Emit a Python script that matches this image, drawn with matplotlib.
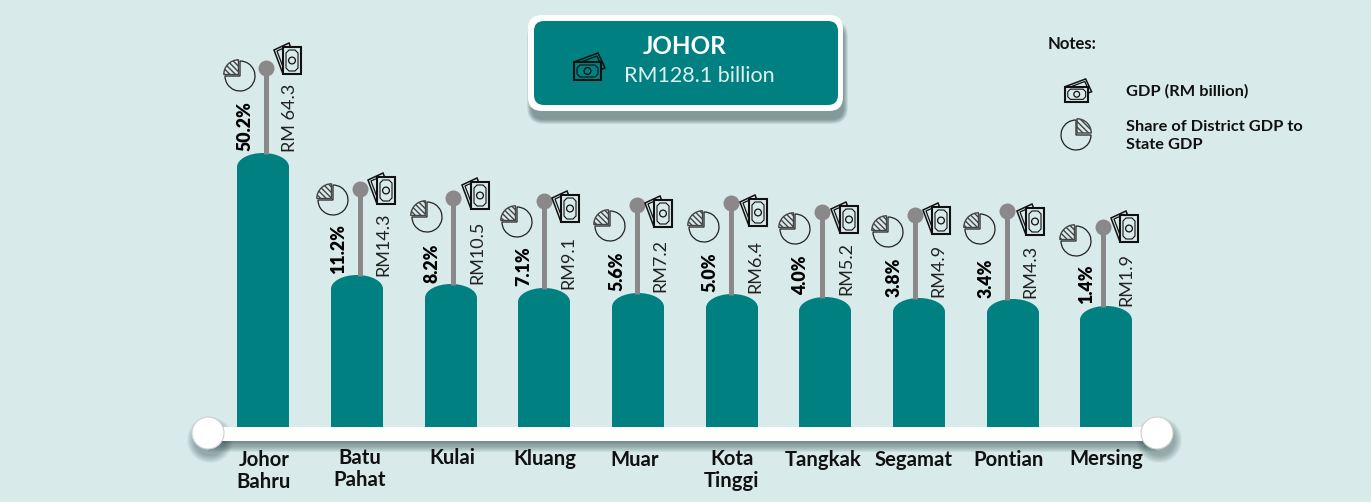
import matplotlib
matplotlib.use("Agg")
import matplotlib.pyplot as plt
from matplotlib.patches import Rectangle, Circle, Wedge, FancyBboxPatch, PathPatch, Polygon
from matplotlib.path import Path
from matplotlib.transforms import Affine2D

# ---- data ----
districts = ["Johor\nBahru", "Batu\nPahat", "Kulai", "Kluang", "Muar",
             "Kota\nTinggi", "Tangkak", "Segamat", "Pontian", "Mersing"]
gdp_labels = ["RM 64.3", "RM14.3", "RM10.5", "RM9.1", "RM7.2",
              "RM6.4", "RM5.2", "RM4.9", "RM4.3", "RM1.9"]
share_labels = ["50.2%", "11.2%", "8.2%", "7.1%", "5.6%",
                "5.0%", "4.0%", "3.8%", "3.4%", "1.4%"]
bar_heights = [274, 152, 143, 139, 134, 133, 130, 129, 128, 121]
stem_heights = [359, 238, 229, 226, 222, 224, 215, 212, 216, 200]

# ---- layout (figure pixels) ----
BASE = 427
BAR_W = 52
bar_x = [263, 357, 451, 544, 638, 732, 825, 919, 1013, 1106]
stem_x = [266, 360, 453, 544, 637, 731, 822, 915, 1007, 1103]
share_x = [245, 339, 432, 524, 617, 710, 801, 894, 986, 1087]
share_bottom = [151, 274, 283, 286, 291, 292, 295, 297, 298, 304]
gdp_x = [290, 383, 477, 568, 660, 755, 846, 938, 1030, 1126]
gdp_bottom = [152, 276, 284, 289, 292, 293, 295, 297, 298, 306]
money_xy = [(287, 59), (381, 189), (475, 194), (565, 207), (658, 212),
            (753, 211), (844, 218), (936, 219), (1030, 220), (1124, 227)]
pie_xy = [(240, 76), (333, 200), (427, 217), (517, 222), (610, 226),
          (704, 227), (795, 229), (888, 232), (980, 229), (1076, 241)]
name_xy = [(264, 471), (360, 469), (452, 458), (545, 459), (635, 460),
           (732, 470), (823, 460), (914, 460), (1009, 460), (1106, 459)]

BG = "#d8ebea"
TEAL = "#008080"
GREY = "#8a8888"
FONT = ["Lato", "DejaVu Sans"]
plt.rcParams["font.family"] = FONT
plt.rcParams["hatch.linewidth"] = 1.0

fig = plt.figure(figsize=(13.71, 5.04), dpi=100, facecolor="white")
ax = fig.add_axes([0, 0, 1, 1])
ax.set_xlim(0, 1371)
ax.set_ylim(504, 0)
ax.axis("off")
ax.add_patch(Rectangle((0, 0), 1371, 502, fc=BG, ec="none", zorder=0))


def rounded_top(x, top, bottom, w, ry=14):
    l, r = x - w / 2, x + w / 2
    k = 0.5523
    verts = [(l, bottom), (l, top + ry),
             (l, top + ry - k * ry), (x - k * w / 2, top), (x, top),
             (x + k * w / 2, top), (r, top + ry - k * ry), (r, top + ry),
             (r, bottom), (l, bottom)]
    codes = [Path.MOVETO, Path.LINETO, Path.CURVE4, Path.CURVE4, Path.CURVE4,
             Path.CURVE4, Path.CURVE4, Path.CURVE4, Path.LINETO, Path.CLOSEPOLY]
    return Path(verts, codes)


def money(cx, cy, s=1.0, horizontal=False, fill=BG, color="#111111", z=6):
    """Small banknote icon: two fanned notes behind one framed note."""
    base = Affine2D().rotate_deg(90) if horizontal else Affine2D()
    tf = base + Affine2D().scale(s).translate(cx, cy) + ax.transData
    outer = [(-4, 15), (-13, -9), (2, -16), (4, -11)]
    inner = [(-4, 8), (-10, -8), (-1, -12)]
    for pts, lw in ((outer, 1.1), (inner, 0.9)):
        ax.add_patch(Polygon(pts, closed=False, fc="none", ec=color, lw=lw,
                             transform=tf, zorder=z))
    ax.add_patch(Rectangle((-4, -12), 18, 27, fc=fill, ec=color, lw=1.5, transform=tf, zorder=z + 1))
    ax.add_patch(Polygon([(-1, -6), (2, -9), (8, -9), (11, -6), (11, 9), (8, 12), (2, 12), (-1, 9)],
                         closed=True, fc="none", ec=color, lw=0.8, transform=tf, zorder=z + 2))
    ax.add_patch(Circle((5, 1.5), 3.4, fc="none", ec=color, lw=0.9, transform=tf, zorder=z + 2))


def pie(cx, cy, r=15, mirror=False, z=6):
    """Pie icon: open circle and one hatched, pulled-out slice."""
    if mirror:
        ax.add_patch(Wedge((cx - 1, cy), r, 0, 270, fc="none", ec="#222222", lw=0.9, zorder=z))
        ax.add_patch(Wedge((cx, cy - 2), r * 0.95, 270, 360, fc=BG, ec="#444444",
                           lw=1.0, hatch="\\\\\\\\\\\\", zorder=z + 1))
    else:
        ax.add_patch(Wedge((cx, cy), r, -90, 180, fc="none", ec="#222222", lw=0.9, zorder=z))
        ax.add_patch(Wedge((cx - 1.5, cy - 1.5), r * 0.98, 180, 270, fc=BG, ec="#444444",
                           lw=1.0, hatch="\\\\\\\\\\\\", zorder=z + 1))


def box_shadow(x, y, w, h, rad, dx, dy, spread, n=10, alpha=0.035, z=1):
    for i in range(n):
        g = spread * (1 - i / n)
        ax.add_patch(FancyBboxPatch((x + dx - g, y + dy - g), w + 2 * g, h + 2 * g,
                                    boxstyle=f"round,pad=0,rounding_size={rad + g}",
                                    fc="#1d3a3a", ec="none", alpha=alpha, zorder=z))


# bars (rounded tops), stems, heads
for i, h in enumerate(bar_heights):
    top = BASE - h
    bar = ax.bar(bar_x[i], -h, bottom=BASE, width=BAR_W, color=TEAL, linewidth=0, zorder=2)[0]
    clip = PathPatch(rounded_top(bar_x[i], top, BASE, BAR_W), transform=ax.transData)
    bar.set_clip_path(clip)
    ax.plot([stem_x[i], stem_x[i]], [top + 1, BASE - stem_heights[i]], color=GREY, lw=3.6,
            solid_capstyle="butt", zorder=3)
    ax.plot(stem_x[i], BASE - stem_heights[i], "o", color=GREY, ms=11.5, mew=0, zorder=4)
    ax.text(share_x[i], share_bottom[i], share_labels[i], rotation=90, ha="center", va="bottom",
            fontsize=12.8, fontweight="heavy", color="black", zorder=5)
    ax.text(gdp_x[i], gdp_bottom[i], gdp_labels[i], rotation=90, ha="center", va="bottom",
            fontsize=13, color="#222222", zorder=5)
    money(*money_xy[i])
    pie(*pie_xy[i])
    ax.text(name_xy[i][0], name_xy[i][1], districts[i], ha="center", va="center",
            fontsize=14.6, fontweight="bold", color="#111111", linespacing=1.15, zorder=5)

# axis bar with end knobs; its shadow falls below only
for i in range(10):
    g = 11 * (1 - i / 10)
    ax.add_patch(Rectangle((208, 441), 949, g, fc="#1d3a3a", ec="none", alpha=0.07, zorder=1))
for cx in (208, 1157):
    for i in range(8):
        ax.add_patch(Circle((cx + 2, 440), 15 + 8 * (1 - i / 8), fc="#1d3a3a", ec="none",
                            alpha=0.05, zorder=1))
ax.add_patch(Rectangle((208, 427), 949, 14, fc="white", ec="none", zorder=3))
for cx in (208, 1157):
    ax.add_patch(Circle((cx, 433), 16, fc="white", ec="#cfcfcf", lw=0.8, zorder=4))

# title box
box_shadow(530, 20, 311, 94, 12, 2, 5, 5, n=8, alpha=0.07, z=1)
ax.add_patch(FancyBboxPatch((528, 15), 315, 96, boxstyle="round,pad=0,rounding_size=14",
                            fc="white", ec="none", zorder=3))
ax.add_patch(FancyBboxPatch((534, 21), 304, 84, boxstyle="round,pad=0,rounding_size=10",
                            fc=TEAL, ec="none", zorder=4))
ax.text(685, 46, "JOHOR", ha="center", va="center", fontsize=17.5, fontweight="bold",
        color="white", zorder=5)
ax.text(699, 76, "RM128.1 billion", ha="center", va="center", fontsize=15.5,
        color="#dff0ef", zorder=5)
money(589, 66, horizontal=True, fill=TEAL, z=6)

# notes
ax.text(1048, 44, "Notes:", ha="left", va="center", fontsize=12, fontweight="bold", color="#111111")
money(1078, 90, s=0.85, horizontal=True, z=6)
pie(1077, 135, mirror=True)
ax.text(1126, 91, "GDP (RM billion)", ha="left", va="center", fontsize=11.8, fontweight="bold", color="#111111")
ax.text(1126, 136, "Share of District GDP to\nState GDP", ha="left", va="center", fontsize=11.8,
        fontweight="bold", color="#111111", linespacing=1.32)

fig.savefig("out.png", dpi=100, facecolor="white")
